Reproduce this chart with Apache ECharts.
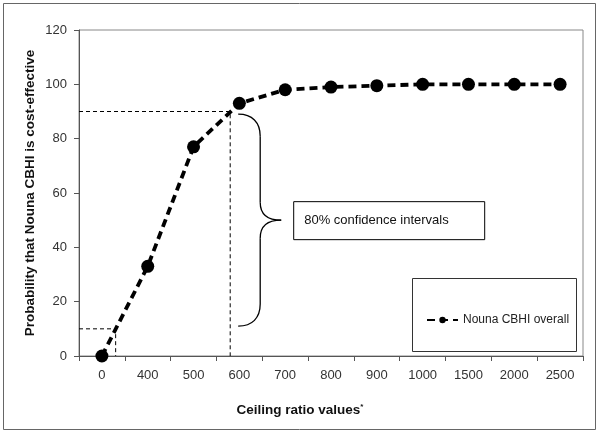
<!DOCTYPE html>
<html>
<head>
<meta charset="utf-8">
<script src="https://cdn.jsdelivr.net/npm/echarts@6/dist/echarts.min.js"></script>
<style>html,body{margin:0;padding:0;background:#fff;}#c{width:600px;height:434px;}</style>
</head>
<body>
<div id="c"></div>
<script>
var categories = ['0','400','500','600','700','800','900','1000','1500','2000','2500'];
var probability = [0, 33, 77, 93, 98, 99, 99.5, 100, 100, 100, 100];
var seriesName = 'Nouna CBHI overall';
var yTicks = {min: 0, max: 120, interval: 20};
// reference (dashed) guide lines at 90% and 10%, x in category-index units
var guide90 = [[-0.5, 90], [2.8, 90], [2.8, 0]];
var guide10 = [[-0.5, 10], [0.3, 10], [0.3, 0]];
var braceRange = [89, 11];
var noteText = '80% confidence intervals';

var chart = echarts.init(document.getElementById('c'), null, {renderer: 'canvas'});
var font = 'Arial, "Liberation Sans", sans-serif';
var option = {
  animation: false,
  backgroundColor: '#fff',
  grid: {left: 79, top: 30, right: 17, bottom: 78, show: true, borderColor: '#888', borderWidth: 1},
  legend: {
    data: [seriesName],
    left: 421, top: 309,
    itemWidth: 31, itemHeight: 8,
    textStyle: {fontFamily: font, fontSize: 12, color: '#222'}
  },
  xAxis: [{
    type: 'category', data: categories, boundaryGap: true,
    axisLine: {lineStyle: {color: '#555'}},
    axisTick: {show: true, length: 5, lineStyle: {color: '#555'}},
    axisLabel: {margin: 13, fontFamily: font, fontSize: 13, color: '#333'},
    name: 'Ceiling ratio values{s|*}', nameLocation: 'middle', nameGap: 47, nameMoveOverlap: false,
    nameTextStyle: {fontFamily: font, fontSize: 13.5, fontWeight: 'bold', color: '#111', padding: [0, 62, 0, 0],
      rich: {s: {fontSize: 8, fontWeight: 'bold', color: '#111', padding: [0, 0, 6, 0]}}}
  }, {
    type: 'value', min: -0.5, max: 10.5, show: false
  }],
  yAxis: {
    type: 'value', min: yTicks.min, max: yTicks.max, interval: yTicks.interval,
    splitLine: {show: false},
    axisLine: {show: true, onZero: false, lineStyle: {color: '#555'}},
    axisTick: {show: true, length: 5, lineStyle: {color: '#555'}},
    axisLabel: {margin: 12, fontFamily: font, fontSize: 13, color: '#333'},
    name: 'Probability that Nouna CBHI is cost-effective', nameLocation: 'middle', nameGap: 42, nameMoveOverlap: false,
    nameTextStyle: {fontFamily: font, fontSize: 13.5, fontWeight: 'bold', color: '#111'}
  },
  series: [{
    name: seriesName, type: 'line', data: probability,
    symbol: 'circle', symbolSize: 13,
    lineStyle: {color: '#000', width: 3.8, type: [8, 5]},
    itemStyle: {color: '#000'},
    z: 5
  }, {
    name: 'g90', type: 'line', xAxisIndex: 1, data: guide90, symbol: 'none',
    lineStyle: {color: '#000', width: 1, type: [4, 3]}, silent: true
  }, {
    name: 'g10', type: 'line', xAxisIndex: 1, data: guide10, symbol: 'none',
    lineStyle: {color: '#000', width: 1, type: [4, 3]}, silent: true
  }]
};
chart.setOption(option);

// annotations positioned from the axes
var vx = chart.convertToPixel({xAxisIndex: 1, yAxisIndex: 0}, [guide90[1][0], 0])[0];
var yTop = chart.convertToPixel({yAxisIndex: 0}, braceRange[0]);
var yBot = chart.convertToPixel({yAxisIndex: 0}, braceRange[1]);
var x0 = vx + 8, x1 = vx + 30, x2 = vx + 51;
var ym = (yTop + yBot) / 2;
var r = 22, rm = 18;
var st = {fill: 'none', stroke: '#000', lineWidth: 1.3};
function bz(a, b, c, d) {
  return {type: 'bezierCurve', shape: {x1: a[0], y1: a[1], cpx1: b[0], cpy1: b[1], cpx2: c[0], cpy2: c[1], x2: d[0], y2: d[1]}, style: st, silent: true};
}
function ln(a, b) {
  return {type: 'line', shape: {x1: a[0], y1: a[1], x2: b[0], y2: b[1]}, style: st, silent: true};
}
var brace = [
  bz([x0, yTop], [x1 - 8, yTop], [x1, yTop + 8], [x1, yTop + r]),
  ln([x1, yTop + r], [x1, ym - rm]),
  bz([x1, ym - rm], [x1, ym - 4], [x1 + 10, ym], [x2, ym]),
  bz([x2, ym], [x1 + 10, ym], [x1, ym + 4], [x1, ym + rm]),
  ln([x1, ym + rm], [x1, yBot - r]),
  bz([x1, yBot - r], [x1, yBot - 8], [x1 - 8, yBot], [x0, yBot])
];

chart.setOption({
  graphic: [
    {type: 'rect', shape: {x: 3.5, y: 3.5, width: 592, height: 426}, style: {fill: 'none', stroke: '#666', lineWidth: 1}, silent: true},
    {type: 'rect', shape: {x: x2 + 12.5, y: ym - 18.5, width: 191, height: 38}, style: {fill: '#fff', stroke: '#000', lineWidth: 1}, z: 10},
    {type: 'text', x: x2 + 23, y: ym, style: {text: noteText, font: '13px ' + font, fill: '#111', verticalAlign: 'middle'}, z: 11},
    {type: 'rect', shape: {x: 412.5, y: 278.5, width: 164, height: 73}, style: {fill: 'none', stroke: '#333', lineWidth: 1}, z: 1}
  ].concat(brace)
});
</script>
</body>
</html>
